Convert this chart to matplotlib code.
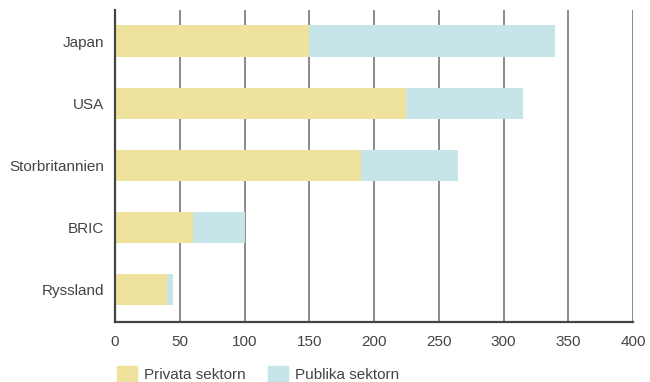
import matplotlib.pyplot as plt
from matplotlib.patches import Patch

# Data (top to bottom as drawn)
lander = ['Japan', 'USA', 'Storbritannien', 'BRIC', 'Ryssland']
privata = [150, 225, 190, 60, 40]
publika = [190, 90, 75, 40, 5]

gul = '#efe29c'
bla = '#c5e5e8'
text_farg = '#444444'

plt.rcParams['font.family'] = ['Liberation Sans', 'DejaVu Sans']
plt.rcParams['font.size'] = 11

fig = plt.figure(figsize=(6.5, 3.82), dpi=100)
ax = fig.add_axes([0.177, 0.157, 0.797, 0.817])

y = list(range(len(lander)))[::-1]
ax.barh(y, privata, height=0.5, color=gul, zorder=2)
ax.barh(y, publika, left=privata, height=0.5, color=bla, zorder=2)

ax.set_xlim(0, 400)
ax.set_ylim(-0.516, 4.5)
ax.set_xticks(range(0, 401, 50))
ax.set_yticks(y)
ax.set_yticklabels(lander)
ax.tick_params(axis='both', length=0, colors=text_farg, labelsize=11)
ax.tick_params(axis='y', pad=8)
ax.tick_params(axis='x', pad=9)

ax.grid(axis='x', color='#777777', linewidth=1.2, zorder=1)
ax.set_axisbelow(True)
for s in ['top', 'right']:
    ax.spines[s].set_visible(False)
for s in ['left', 'bottom']:
    ax.spines[s].set_color('#444444')
    ax.spines[s].set_linewidth(1.6)
ax.spines['left'].set_zorder(3)

handles = [Patch(color=gul, label='Privata sektorn'),
           Patch(color=bla, label='Publika sektorn')]
leg = fig.legend(handles=handles, loc='upper left', bbox_to_anchor=(0.168, 0.063),
                 ncol=2, frameon=False, borderpad=0, handlelength=1.3,
                 handleheight=1.3, handletextpad=0.45, columnspacing=1.5,
                 fontsize=11)
for t in leg.get_texts():
    t.set_color(text_farg)

fig.savefig('out.png', dpi=100)
